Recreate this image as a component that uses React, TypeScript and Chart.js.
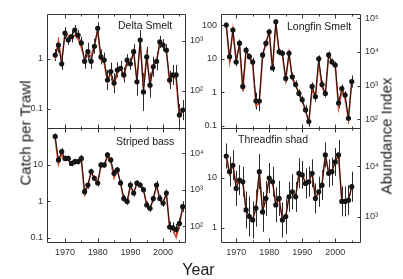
import React, { useEffect, useRef } from "react";
import { Chart, registerables } from "chart.js";

Chart.register(...registerables);

const FONT = "'Liberation Sans', Arial, Helvetica, sans-serif";
Chart.defaults.font.family = FONT;

// ---------- data ----------
const YEARS_LEFT = [1967, 1968, 1969, 1970, 1971, 1972, 1973, 1974, 1975, 1976, 1977, 1978, 1979, 1980, 1981, 1982, 1983, 1984, 1985, 1986, 1987, 1988, 1989, 1990, 1991, 1992, 1993, 1994, 1995, 1996, 1997, 1998, 1999, 2000, 2001, 2002, 2003, 2004, 2005, 2006];
const YEARS_RIGHT = [1967, 1968, 1969, 1970, 1971, 1972, 1973, 1974, 1975, 1976, 1977, 1978, 1979, 1980, 1981, 1982, 1983, 1984, 1985, 1986, 1987, 1988, 1989, 1990, 1991, 1992, 1993, 1994, 1995, 1996, 1997, 1998, 1999, 2000, 2001, 2002, 2003, 2004, 2005];
const MAJOR_YEARS = [1970, 1980, 1990, 2000];
const MINOR_YEARS = [1975, 1985, 1995, 2005];

// Delta Smelt
const DELTA_CATCH = [1.2, 1.9, 0.8, 3.3, 2.4, 2.8, 3.8, 3.0, 2.1, 0.9, 1.4, 0.9, 1.8, 4.1, 1.1, 0.95, 0.38, 0.56, 0.33, 0.6, 0.65, 0.48, 0.95, 0.8, 1.4, 0.35, 2.4, 0.22, 1.1, 0.3, 0.7, 0.9, 2.2, 1.9, 1.5, 0.38, 0.48, 0.48, 0.076, 0.095];
const DELTA_INDEX = [430, 1000, 380, 1500, 1300, 1150, 1300, 1100, 750, 430, 520, 500, 800, 1650, 420, 360, 150, 230, 130, 230, 290, 190, 380, 360, 620, 160, 1000, 110, 520, 130, 310, 400, 880, 800, 620, 150, 210, 170, 30, 42];
const DELTA_ERR = [0.12, 0.15, 0.12, 0.12, 0.1, 0.12, 0.1, 0.1, 0.12, 0.15, 0.18, 0.15, 0.15, 0.12, 0.15, 0.15, 0.2, 0.18, 0.2, 0.15, 0.15, 0.15, 0.12, 0.12, 0.15, 0.28, 0.2, 0.38, 0.2, 0.25, 0.2, 0.18, 0.12, 0.12, 0.12, 0.18, 0.2, 0.2, 0.22, 0.2];
const DELTA_CATCH_TICKS = [0.1, 1];
const DELTA_INDEX_TICKS = [100, 1000];

// Longfin Smelt
const LONGFIN_CATCH = [100, 11.5, 71, 8, 29, 1.5, 18, 11.5, 8, 0.55, 0.55, 13, 29, 63, 5.3, 125, 16, 14.5, 2.6, 14.5, 2.9, 1.7, 0.93, 0.6, 0.3, 0.135, 1.5, 0.74, 10, 1.7, 0.93, 13, 8, 6.5, 0.48, 1.3, 0.83, 0.17, 2.1];
const LONGFIN_INDEX = [60000, 5500, 45000, 5500, 17000, 700, 11000, 7000, 4200, 250, 300, 8000, 18000, 40000, 3000, 70000, 10000, 8000, 1500, 9000, 1600, 1000, 600, 350, 180, 80, 800, 450, 5000, 900, 550, 8000, 5500, 4000, 220, 700, 400, 100, 1300];
const LONGFIN_ERR = [0.08, 0.15, 0.1, 0.12, 0.1, 0.15, 0.1, 0.1, 0.12, 0.25, 0.3, 0.1, 0.1, 0.08, 0.12, 0.08, 0.1, 0.1, 0.12, 0.1, 0.12, 0.12, 0.12, 0.12, 0.15, 0.15, 0.12, 0.15, 0.1, 0.12, 0.12, 0.1, 0.1, 0.1, 0.15, 0.12, 0.12, 0.15, 0.18];
const LONGFIN_CATCH_TICKS = [0.1, 1, 10, 100];
const LONGFIN_INDEX_TICKS = [100, 1000, 10000, 100000];

// Striped bass
const STRIPED_CATCH = [60, 13.7, 23, 15, 15, 11, 12.3, 12.3, 15, 1.85, 2.8, 6.6, 4.3, 3.2, 10, 10, 18.8, 13.7, 5.9, 7.3, 3.2, 1.2, 1.0, 2.8, 1.7, 3.2, 2.8, 2.1, 0.8, 0.65, 1.2, 2.8, 1.2, 0.9, 1.7, 0.2, 0.19, 0.17, 0.25, 0.72];
const STRIPED_INDEX = [25000, 5000, 9500, 6500, 6500, 4800, 5200, 5500, 6500, 750, 1300, 3000, 2000, 1500, 4500, 4300, 8000, 6000, 2100, 3500, 1500, 520, 430, 1300, 800, 1500, 1300, 1000, 380, 300, 550, 1300, 550, 420, 800, 90, 80, 50, 110, 350];
const STRIPED_ERR = [0.08, 0.1, 0.1, 0.08, 0.08, 0.08, 0.08, 0.08, 0.1, 0.1, 0.1, 0.08, 0.08, 0.1, 0.08, 0.08, 0.08, 0.08, 0.1, 0.08, 0.08, 0.1, 0.1, 0.1, 0.1, 0.08, 0.08, 0.08, 0.1, 0.1, 0.1, 0.12, 0.1, 0.1, 0.1, 0.15, 0.15, 0.15, 0.15, 0.15];
const STRIPED_CATCH_TICKS = [0.1, 1, 10];
const STRIPED_INDEX_TICKS = [100, 1000, 10000];

// Threadfin shad
const THREADFIN_CATCH = [27.5, 13.4, 18, 6.2, 9.1, 8.4, 2.3, 1.7, 1.45, 2.5, 13.4, 2.1, 3.9, 10, 8.4, 2.9, 3.9, 1.45, 1.7, 4.2, 5.3, 4.2, 12.4, 11.5, 7.8, 8.4, 12.4, 3.9, 5.3, 7.2, 29, 12.4, 13.4, 21, 29, 3.4, 3.4, 3.6, 6.7];
const THREADFIN_INDEX = [15000, 7000, 11000, 4000, 5500, 5000, 1300, 1000, 850, 1500, 8000, 1300, 2200, 6000, 5000, 1800, 2200, 900, 1000, 2500, 3300, 2500, 7000, 7000, 4700, 5000, 7500, 2300, 3100, 4500, 17000, 7800, 8000, 12500, 17000, 2000, 1900, 2100, 4000];
const THREADFIN_ERR = [0.25, 0.3, 0.3, 0.35, 0.3, 0.3, 0.37, 0.4, 0.37, 0.37, 0.35, 0.4, 0.35, 0.3, 0.3, 0.35, 0.35, 0.35, 0.35, 0.3, 0.35, 0.3, 0.3, 0.28, 0.3, 0.3, 0.28, 0.3, 0.3, 0.3, 0.25, 0.28, 0.28, 0.28, 0.3, 0.3, 0.3, 0.3, 0.3];
const THREADFIN_CATCH_TICKS = [1, 10];
const THREADFIN_INDEX_TICKS = [1000, 10000];

// ---------- styling / layout ----------
const BLACK = "#151515";
const RED = "#d8452a";
const AXIS = "#333";
const W = 403;
const H = 279;
const Y_AXIS_W = 30;
const X_AXIS_H = 22;

type PanelCfg = {
  key: string;
  title: string;
  titleX: number;
  titleY: number;
  years: number[];
  catchVals: number[];
  indexVals: number[];
  err: number[];
  catchTicks: number[];
  indexTicks: number[];
  yMin: number;
  yMax: number;
  offset: number;
  xMin: number;
  xMax: number;
  box: { l: number; r: number; t: number; b: number };
  showYears: boolean;
};

const PANELS: PanelCfg[] = [
  {
    key: "delta", title: "Delta Smelt", titleX: 118, titleY: 19.5,
    years: YEARS_LEFT, catchVals: DELTA_CATCH, indexVals: DELTA_INDEX, err: DELTA_ERR,
    catchTicks: DELTA_CATCH_TICKS, indexTicks: DELTA_INDEX_TICKS,
    yMin: Math.pow(10, -1.38), yMax: Math.pow(10, 0.9), offset: 2.64,
    xMin: 1964.5, xMax: 2006.7,
    box: { l: 47, r: 185, t: 14, b: 128 }, showYears: false,
  },
  {
    key: "longfin", title: "Longfin Smelt", titleX: 287, titleY: 21,
    years: YEARS_RIGHT, catchVals: LONGFIN_CATCH, indexVals: LONGFIN_INDEX, err: LONGFIN_ERR,
    catchTicks: LONGFIN_CATCH_TICKS, indexTicks: LONGFIN_INDEX_TICKS,
    yMin: Math.pow(10, -1.06), yMax: Math.pow(10, 2.33), offset: 2.8,
    xMin: 1965.4, xMax: 2007.5,
    box: { l: 221, r: 360, t: 14, b: 128 }, showYears: false,
  },
  {
    key: "striped", title: "Striped bass", titleX: 116, titleY: 135.5,
    years: YEARS_LEFT, catchVals: STRIPED_CATCH, indexVals: STRIPED_INDEX, err: STRIPED_ERR,
    catchTicks: STRIPED_CATCH_TICKS, indexTicks: STRIPED_INDEX_TICKS,
    yMin: Math.pow(10, -1.11), yMax: Math.pow(10, 2.01), offset: 2.68,
    xMin: 1964.5, xMax: 2006.7,
    box: { l: 47, r: 185, t: 128, b: 242 }, showYears: true,
  },
  {
    key: "threadfin", title: "Threadfin shad", titleX: 238, titleY: 134,
    years: YEARS_RIGHT, catchVals: THREADFIN_CATCH, indexVals: THREADFIN_INDEX, err: THREADFIN_ERR,
    catchTicks: THREADFIN_CATCH_TICKS, indexTicks: THREADFIN_INDEX_TICKS,
    yMin: Math.pow(10, -0.28), yMax: Math.pow(10, 2.0), offset: 2.77,
    xMin: 1965.4, xMax: 2007.5,
    box: { l: 221, r: 360, t: 128, b: 242 }, showYears: true,
  },
];

const SUP: Record<number, string> = { 1: "\u00B9", 2: "\u00B2", 3: "\u00B3", 4: "\u2074", 5: "\u2075" };
const fmtCatch = (v: number) => (v < 1 ? String(v) : String(Math.round(v)));
const fmtIndex = (v: number) => "10" + SUP[Math.round(Math.log10(v))];

const decoPlugin = {
  id: "panelDeco",
  beforeDatasetsDraw(chart: any) {
    const ctx = chart.ctx;
    const area = chart.chartArea;
    const ds = chart.data.datasets[1];
    const xs = chart.scales.x;
    const ys = chart.scales.y;
    ctx.save();
    ctx.beginPath();
    ctx.rect(area.left, area.top, area.right - area.left, area.bottom - area.top);
    ctx.clip();
    ctx.strokeStyle = "#2a2a2a";
    ctx.lineWidth = 1;
    ds.data.forEach((pt: any, i: number) => {
      const e = Math.pow(10, ds.errors[i]);
      const x = Math.round(xs.getPixelForValue(pt.x)) + 0.5;
      ctx.beginPath();
      ctx.moveTo(x, ys.getPixelForValue(pt.y * e));
      ctx.lineTo(x, ys.getPixelForValue(pt.y / e));
      ctx.stroke();
    });
    ctx.restore();
  },
  afterDraw(chart: any) {
    const ctx = chart.ctx;
    const a = chart.chartArea;
    const xs = chart.scales.x;
    const ys = chart.scales.y;
    const y2 = chart.scales.y2;
    const l = a.left + 0.5, r = a.right + 0.5, t = a.top + 0.5, b = a.bottom + 0.5;
    ctx.save();
    ctx.strokeStyle = AXIS;
    ctx.lineWidth = 1;
    ctx.beginPath();
    ctx.rect(l, t, r - l, b - t);
    ctx.stroke();
    ctx.beginPath();
    const yearTick = (yr: number, len: number) => {
      const x = Math.round(xs.getPixelForValue(yr)) + 0.5;
      ctx.moveTo(x, t); ctx.lineTo(x, t + len);
      ctx.moveTo(x, b); ctx.lineTo(x, b - len);
    };
    MAJOR_YEARS.forEach((yr) => yearTick(yr, 4));
    MINOR_YEARS.forEach((yr) => yearTick(yr, 2));
    ys.ticks.forEach((tk: any) => {
      const y = Math.round(ys.getPixelForValue(tk.value)) + 0.5;
      ctx.moveTo(l, y); ctx.lineTo(l + 3, y);
    });
    y2.ticks.forEach((tk: any) => {
      const y = Math.round(y2.getPixelForValue(tk.value)) + 0.5;
      ctx.moveTo(r, y); ctx.lineTo(r - 3, y);
    });
    ctx.stroke();
    ctx.restore();
  },
};

function buildConfig(p: PanelCfg): any {
  const factor = Math.pow(10, p.offset);
  const catchPts = p.years.map((x, i) => ({ x, y: p.catchVals[i] }));
  const idxPts = p.years.map((x, i) => ({ x, y: p.indexVals[i] }));
  const noGrid = { display: false, drawTicks: false };
  const noBorder = { display: false };
  const tickFont = { size: 9, family: FONT };
  const xH = p.showYears ? X_AXIS_H : 0;
  return {
    type: "line",
    data: {
      datasets: [
        {
          data: idxPts, yAxisID: "y2", xAxisID: "x",
          borderColor: RED, borderWidth: 1.6, pointRadius: 0, tension: 0, order: 2,
        },
        {
          data: catchPts, yAxisID: "y", xAxisID: "x", errors: p.err,
          borderColor: BLACK, borderWidth: 1, pointRadius: 2.6,
          pointBackgroundColor: BLACK, pointBorderColor: BLACK, pointBorderWidth: 0,
          tension: 0, order: 1,
        },
      ],
    },
    options: {
      animation: false,
      responsive: false,
      maintainAspectRatio: false,
      events: [],
      layout: {
        padding: {
          left: p.box.l - Y_AXIS_W,
          right: W - p.box.r - Y_AXIS_W,
          top: p.box.t,
          bottom: H - p.box.b - xH,
        },
      },
      plugins: { legend: { display: false }, tooltip: { enabled: false }, title: { display: false } },
      scales: {
        x: {
          type: "linear", position: "bottom", min: p.xMin, max: p.xMax,
          grid: noGrid, border: noBorder,
          afterBuildTicks: (s: any) => { s.ticks = MAJOR_YEARS.map((v) => ({ value: v })); },
          afterFit: (s: any) => { s.height = xH; },
          ticks: {
            display: p.showYears, autoSkip: false, maxRotation: 0, padding: 5,
            font: tickFont, color: AXIS, callback: (v: any) => String(v),
          },
        },
        y: {
          type: "logarithmic", position: "left", min: p.yMin, max: p.yMax,
          grid: noGrid, border: noBorder,
          afterBuildTicks: (s: any) => { s.ticks = p.catchTicks.map((v) => ({ value: v })); },
          afterFit: (s: any) => { s.width = Y_AXIS_W; },
          ticks: { autoSkip: false, padding: 4, font: tickFont, color: AXIS, callback: (v: any) => fmtCatch(Number(v)) },
        },
        y2: {
          type: "logarithmic", position: "right", min: p.yMin * factor, max: p.yMax * factor,
          grid: noGrid, border: noBorder,
          afterBuildTicks: (s: any) => { s.ticks = p.indexTicks.map((v) => ({ value: v })); },
          afterFit: (s: any) => { s.width = Y_AXIS_W; },
          ticks: { autoSkip: false, padding: 5, font: tickFont, color: AXIS, callback: (v: any) => fmtIndex(Number(v)) },
        },
      },
    },
    plugins: [decoPlugin],
  };
}

function Panel({ cfg }: { cfg: PanelCfg }) {
  const ref = useRef<HTMLCanvasElement>(null);
  useEffect(() => {
    const chart = new Chart(ref.current as HTMLCanvasElement, buildConfig(cfg));
    return () => chart.destroy();
  }, [cfg]);
  return (
    <canvas
      ref={ref}
      width={W}
      height={H}
      style={{ position: "absolute", left: 0, top: 0, width: W, height: H }}
    />
  );
}

const rotated = (cx: number, cy: number, size: number): React.CSSProperties => ({
  position: "absolute",
  left: cx,
  top: cy,
  transform: "translate(-50%, -50%) rotate(-90deg)",
  fontSize: size,
  lineHeight: 1,
  whiteSpace: "nowrap",
  color: "#1a1a1a",
});

export default function App() {
  return (
    <div
      style={{
        position: "fixed", left: 0, top: 0, width: W, height: H,
        background: "#fff", overflow: "hidden", fontFamily: FONT,
      }}
    >
      {PANELS.map((p) => (
        <Panel key={p.key} cfg={p} />
      ))}
      {PANELS.map((p) => (
        <div
          key={p.key + "-title"}
          style={{
            position: "absolute", left: p.titleX, top: p.titleY, fontSize: 10.5,
            lineHeight: 1, whiteSpace: "nowrap", color: "#1a1a1a",
          }}
        >
          {p.title}
        </div>
      ))}
      <div style={rotated(25, 133, 15)}>Catch per Trawl</div>
      <div style={rotated(386, 136, 15)}>Abundance Index</div>
      <div
        style={{
          position: "absolute", left: 198.5, top: 270, transform: "translate(-50%, -50%)",
          fontSize: 16, lineHeight: 1, whiteSpace: "nowrap", color: "#1a1a1a",
        }}
      >
        Year
      </div>
    </div>
  );
}
